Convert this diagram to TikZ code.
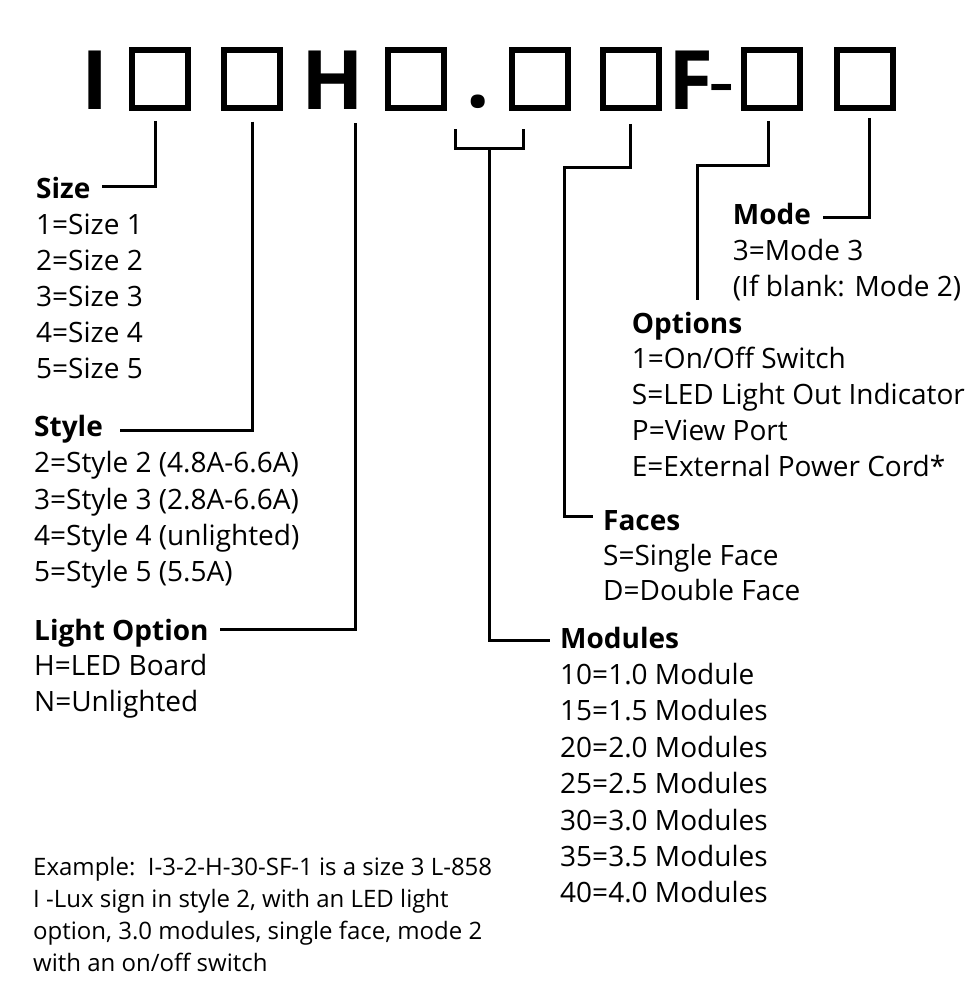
\documentclass[tikz,border=0pt]{standalone}
\usepackage{fontspec}
\setmainfont{Open Sans}
\usetikzlibrary{positioning}

\tikzset{
  slot/.style={draw, line width=6pt, minimum width=56pt, minimum height=58pt, inner sep=0pt},
  glyph/.style={font=\fontsize{82}{82}\selectfont\bfseries, inner sep=0pt, anchor=base},
  head/.style={font=\fontsize{28}{32}\selectfont\bfseries, inner sep=0pt, anchor=base west},
  item/.style={font=\fontsize{28}{32}\selectfont, inner sep=0pt, anchor=base west},
  note/.style={font=\fontsize{24}{28}\selectfont, inner sep=0pt, anchor=base west},
  lead/.style={line width=3pt},
}

\begin{document}
\begin{tikzpicture}[x=1pt,y=-1pt]
\useasboundingbox (0,0) rectangle (978,1000);

%part number
\node[glyph] (lI) at (95.5,110) {I};
\node[slot] (s1) at (160,79) {};
\node[slot] (s2) at (251.5,79) {};
\node[glyph] (lH) at (332.5,110) {H};
\node[slot] (s3) at (415.5,79) {};
\node[glyph] (dot) at (477.7,108) {.};
\node[slot] (s4) at (539.5,79) {};
\node[slot] (s5) at (630.5,79) {};
\node[glyph,anchor=base west] (lF) at (668,110) {F};
\node[glyph,font=\fontsize{82}{82}\selectfont] (dash) at (722,110) {-};
\node[slot] (s6) at (772,79) {};
\node[slot] (s7) at (864.5,79) {};

%headings and lists
\node[head] (size) at (36,199) {Size};
\foreach \t [count=\i] in {1=Size 1,2=Size 2,3=Size 3,4=Size 4,5=Size 5}
  \node[item] (size-\i) at (36,199+35.8*\i) {\t};

\node[head] (style) at (34,436.7) {Style};
\foreach \t [count=\i] in {2=Style 2 (4.8A-6.6A),3=Style 3 (2.8A-6.6A),4=Style 4 (unlighted),5=Style 5 (5.5A)}
  \node[item] (style-\i) at (34,436.7+36.25*\i) {\t};

\node[head] (light) at (34,640) {Light Option};
\foreach \t [count=\i] in {H=LED Board,N=Unlighted}
  \node[item] (light-\i) at (34,640+35.8*\i) {\t};

\node[head] (mode) at (732.7,225) {Mode};
\foreach \t [count=\i] in {3=Mode 3,{(If blank: Mode 2)}}
  \node[item] (mode-\i) at (732.7,225+35.8*\i) {\t};

\node[head] (options) at (631.7,333) {Options};
\foreach \t [count=\i] in {1=On/Off Switch,S=LED Light Out Indicator,P=View Port,E=External Power Cord*}
  \node[item] (options-\i) at (631.7,333+35.9*\i) {\t};

\node[head] (faces) at (603,530) {Faces};
\foreach \t [count=\i] in {S=Single Face,D=Double Face}
  \node[item] (faces-\i) at (603,530+35*\i) {\t};

\node[head] (modules) at (560,648) {Modules};
\foreach \t [count=\i] in {10=1.0 Module,15=1.5 Modules,20=2.0 Modules,25=2.5 Modules,30=3.0 Modules,35=3.5 Modules,40=4.0 Modules}
  \node[item] (modules-\i) at (560,648+36.4*\i) {\t};

%example
\foreach \t [count=\i] in {{Example:\ \ I-3-2-H-30-SF-1 is a size 3 L-858},{I -Lux sign in style 2, with an LED light},{option, 3.0 modules, single face, mode 2},{with an on/off switch}}
  \node[note] (example-\i) at (33,875+32.3*\i-32.3) {\t};

%leads
\coordinate (size-in) at (155,121);
\coordinate (size-out) at (101.7,186.7);
\draw[lead] (size-in) |- (size-out);

\coordinate (style-in) at (252.3,121.7);
\coordinate (style-out) at (120,430);
\draw[lead] (style-in) |- (style-out);

\coordinate (light-in) at (355,123.3);
\coordinate (light-out) at (220,629);
\draw[lead] (light-in) |- (light-out);

\coordinate (modules-l) at (455,129.3);
\coordinate (modules-r) at (523.3,129.3);
\coordinate (modules-mid) at (489.3,148.7);
\coordinate (modules-out) at (550,640);
\draw[lead] (modules-l) |- (modules-mid) -| (modules-r);
\draw[lead] (modules-mid) |- (modules-out);

\coordinate (faces-in) at (630,124);
\coordinate (faces-turn) at (564.5,167.3);
\coordinate (faces-out) at (593,516);
\draw[lead] (faces-in) |- (faces-turn) |- (faces-out);

\coordinate (options-in) at (768.7,121);
\coordinate (options-turn) at (697,165.7);
\coordinate (options-out) at (697,300);
\draw[lead] (options-in) |- (options-turn) -- (options-out);

\coordinate (mode-in) at (869,118.3);
\coordinate (mode-out) at (823,218);
\draw[lead] (mode-in) |- (mode-out);
\end{tikzpicture}
\end{document}
